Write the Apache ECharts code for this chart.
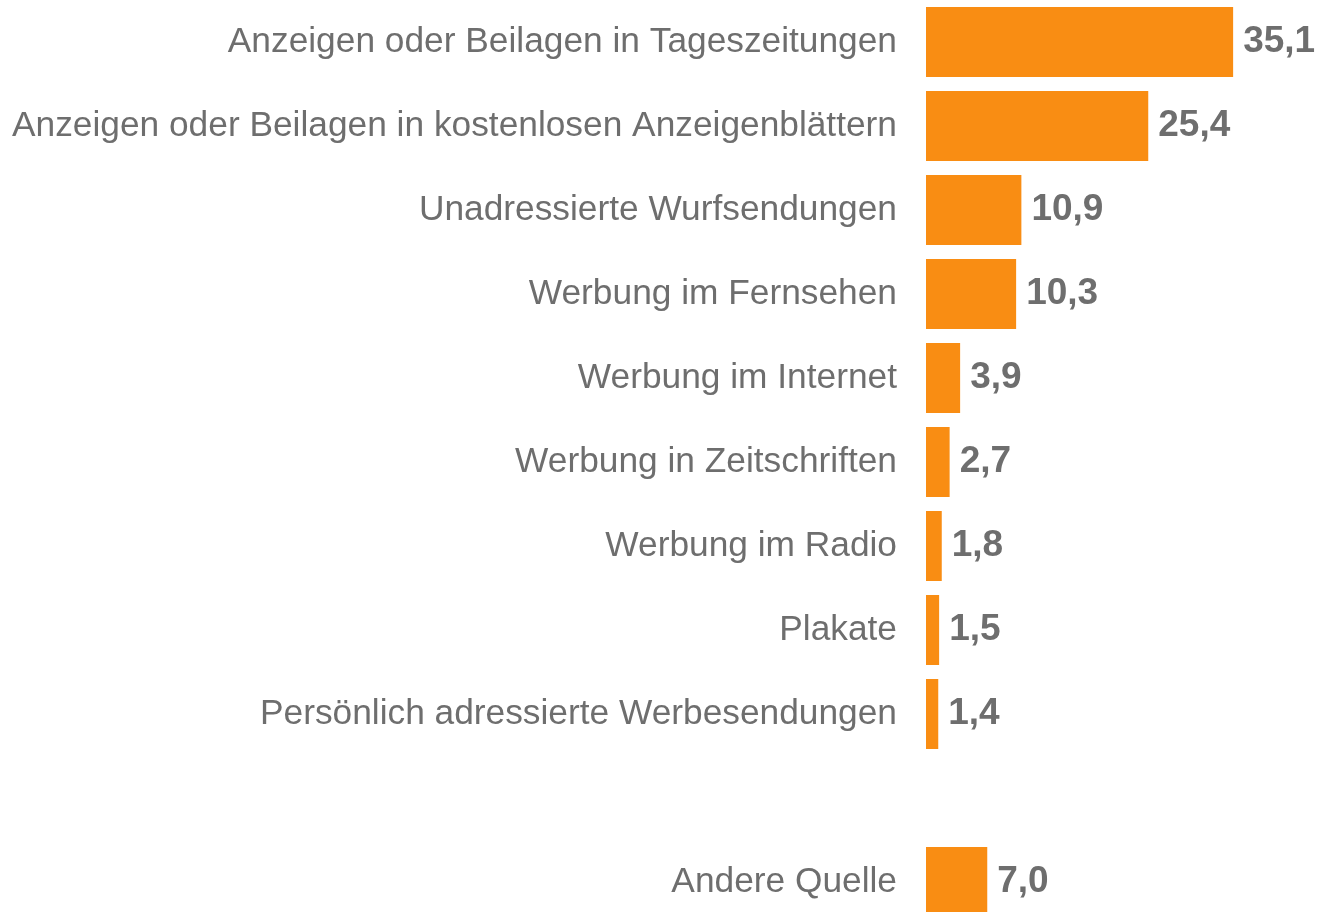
<!DOCTYPE html>
<html>
<head>
<meta charset="utf-8">
<script src="https://cdn.jsdelivr.net/npm/echarts@6/dist/echarts.min.js"></script>
<style>
  html, body { margin: 0; padding: 0; background: #fff; overflow: hidden; }
  /* taller than the window so the last bar runs off the bottom edge */
  #chart { width: 1318px; height: 924px; }
</style>
</head>
<body>
<div id="chart"></div>
<script>
// empty category is the gap before "Andere Quelle"
const categories = [
  'Anzeigen oder Beilagen in Tageszeitungen',
  'Anzeigen oder Beilagen in kostenlosen Anzeigenblättern',
  'Unadressierte Wurfsendungen',
  'Werbung im Fernsehen',
  'Werbung im Internet',
  'Werbung in Zeitschriften',
  'Werbung im Radio',
  'Plakate',
  'Persönlich adressierte Werbesendungen',
  '',
  'Andere Quelle'
]
const values = [35.1, 25.4, 10.9, 10.3, 3.9, 2.7, 1.8, 1.5, 1.4, null, 7.0]

const textColor = '#6e6e6e'
const chart = echarts.init(document.getElementById('chart'))

chart.setOption({
  animation: false,
  grid: {
    left: 926,
    right: 42,
    top: 0,
    bottom: 0
  },
  xAxis: {
    type: 'value',
    min: 0,
    max: 40,
    show: false
  },
  yAxis: {
    type: 'category',
    inverse: true,
    data: categories,
    axisLine: { show: false },
    axisTick: { show: false },
    splitLine: { show: false },
    axisLabel: {
      margin: 29,
      fontFamily: 'Liberation Sans, Arial, sans-serif',
      fontSize: 35.3,
      color: textColor
    }
  },
  series: [
    {
      type: 'bar',
      data: values,
      barWidth: 70,
      itemStyle: { color: '#f98d13' },
      label: {
        show: true,
        position: 'right',
        distance: 10,
        fontFamily: 'Liberation Sans, Arial, sans-serif',
        fontSize: 37,
        fontWeight: 'bold',
        color: textColor,
        formatter: p => p.value.toFixed(1).replace('.', ',')
      }
    }
  ]
})
</script>
</body>
</html>
